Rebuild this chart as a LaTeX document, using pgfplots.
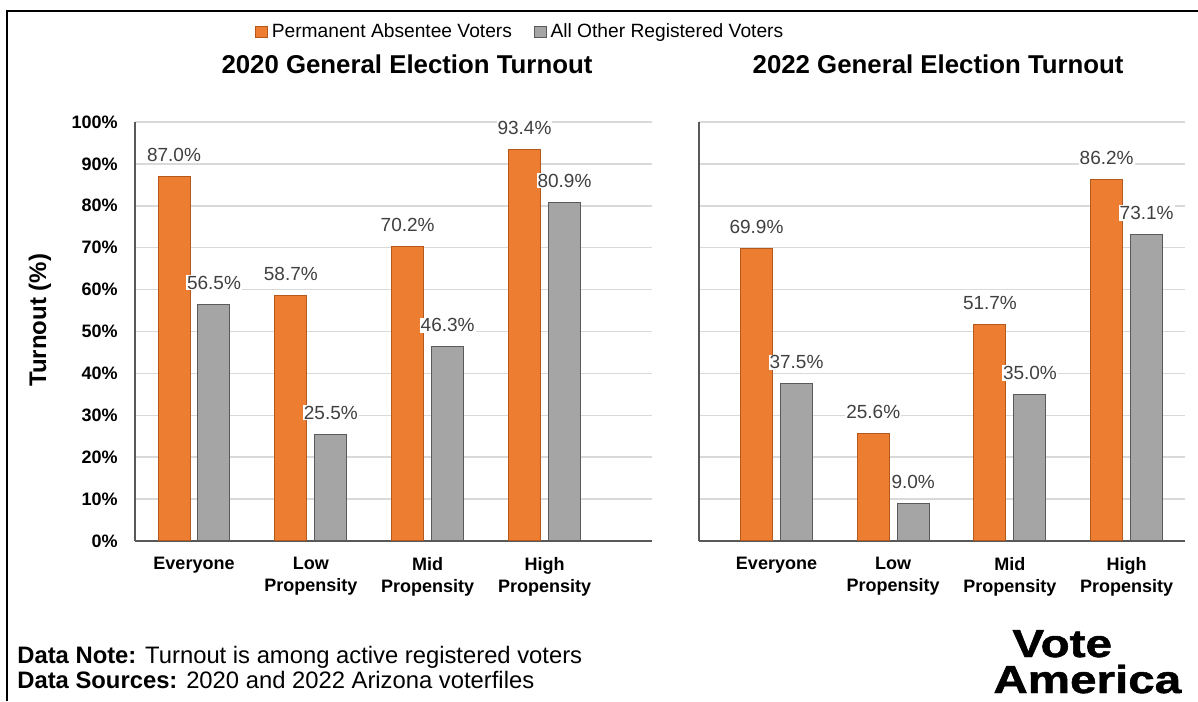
\documentclass[border=0pt]{standalone}
\usepackage{fontspec}
\setmainfont{Liberation Sans}
\newfontfamily\logofont{Liberation Sans}[FakeBold=1.2]
\usepackage{graphicx}
\usepackage{pgfplots}
\usepackage{pgfplotstable}
\pgfplotsset{compat=1.18}
\definecolor{paorange}{HTML}{ED7D31}
\definecolor{paedge}{HTML}{B5581B}
\definecolor{othgray}{HTML}{A5A5A5}
\definecolor{othedge}{HTML}{5A5A5A}
\definecolor{gridc}{HTML}{D9D9D9}
\definecolor{axisc}{HTML}{595959}
\definecolor{lblc}{HTML}{404040}

\pgfplotstableread{
x pa other
0 87.0 56.5
1 58.7 25.5
2 70.2 46.3
3 93.4 80.9
}\tabA
\pgfplotstableread{
x pa other
0 69.9 37.5
1 25.6 9.0
2 51.7 35.0
3 86.2 73.1
}\tabB

\pgfplotsset{
  turnout/.style={
    scale only axis, height=209.5pt, ymin=0, ymax=100, clip=false,
    axis x line*=bottom, axis y line*=left,
    axis line style={draw=axisc, line width=0.75pt},
    ymajorgrids, grid style={draw=gridc, line width=0.75pt},
    major tick length=0pt,
    xtick={0,1,2,3},
    xticklabels={Everyone,{Low\\Propensity},{Mid\\Propensity},{High\\Propensity}},
    xticklabel style={font=\fontsize{9}{11}\selectfont\bfseries, align=center, inner sep=0pt, yshift=-8pt, anchor=north},
    ytick={0,10,20,30,40,50,60,70,80,90,100},
    /pgf/number format/assume math mode=true,
    title style={font=\fontsize{12.9}{15}\selectfont\bfseries, anchor=base},
    nodes near coords={\pgfmathprintnumber[fixed,fixed zerofill,precision=1]{\pgfplotspointmeta}\%},
    nodes near coords style={font=\fontsize{9.5}{11}\selectfont, text=lblc, anchor=base, yshift=7.5pt, fill=white, inner sep=0.5pt},
  },
  pabar/.style={ybar, bar width=0.274, bar shift=-0.171, fill=paorange, draw=paedge, line width=0.5pt,
    every node near coord/.append style={xshift=-10pt},
    legend image code/.code={\draw[fill=paorange,draw=paedge,line width=0.5pt] (0pt,-2.9pt) rectangle (5.8pt,2.9pt);}},
  othbar/.style={ybar, bar width=0.274, bar shift=0.171, fill=othgray, draw=othedge, line width=0.5pt,
    every node near coord/.append style={xshift=10pt},
    legend image code/.code={\draw[fill=othgray,draw=othedge,line width=0.5pt] (0pt,-2.9pt) rectangle (5.8pt,2.9pt);}},
}

\begin{document}
\begin{tikzpicture}
\path[use as bounding box] (0pt,0pt) rectangle (599pt,350.5pt);
\draw[line width=1pt, black] (3.5pt,0pt) -- (3.5pt,345pt) -- (599pt,345pt);

\begin{axis}[turnout,
  at={(67.5pt,80pt)}, anchor=south west, width=258.5pt,
  xmin=-0.505, xmax=3.92,
  yticklabels={0\%,10\%,20\%,30\%,40\%,50\%,60\%,70\%,80\%,90\%,100\%},
  yticklabel style={font=\fontsize{9}{11}\selectfont\bfseries, inner sep=0pt, xshift=-8.5pt},
  ylabel={Turnout (\%)},
  ylabel style={font=\fontsize{12}{13}\selectfont\bfseries, at={(axis description cs:-0.184,0.527)}, anchor=center},
  title={2020 General Election Turnout},
  title style={at={(axis description cs:0.526,1.088)}},
  legend columns=2,
  legend style={at={(axis description cs:0.747,1.215)}, anchor=center, draw=none, fill=none,
    font=\fontsize{9.6}{11}\selectfont, /tikz/every even column/.append style={column sep=9pt}},
]
\addplot[pabar] table[x=x,y=pa] {\tabA};
\addlegendentry{Permanent Absentee Voters}
\addplot[othbar] table[x=x,y=other] {\tabA};
\addlegendentry{All Other Registered Voters}
\end{axis}

\begin{axis}[turnout,
  at={(349.5pt,80pt)}, anchor=south west, width=243pt,
  xmin=-0.664, xmax=3.50,
  yticklabel=\empty,
  title={2022 General Election Turnout},
  title style={at={(axis description cs:0.492,1.088)}},
]
\addplot[pabar] table[x=x,y=pa] {\tabB};
\addplot[othbar] table[x=x,y=other] {\tabB};
\end{axis}

\node[anchor=base west, inner sep=0pt, font=\fontsize{11.9}{13}\selectfont] at (8.5pt,19pt) {\textbf{Data Note:} Turnout is among active registered voters};
\node[anchor=base west, inner sep=0pt, font=\fontsize{11.9}{13}\selectfont] at (8.5pt,6.5pt) {\textbf{Data Sources:} 2020 and 2022 Arizona voterfiles};
\node[anchor=base west, inner sep=0pt, font=\fontsize{19.5}{20}\logofont\bfseries] at (506pt,22pt) {\scalebox{1.22}[1]{Vote}};
\node[anchor=base west, inner sep=0pt, font=\fontsize{19.5}{20}\logofont\bfseries] at (496.5pt,4pt) {\scalebox{1.22}[1]{America}};
\end{tikzpicture}
\end{document}
